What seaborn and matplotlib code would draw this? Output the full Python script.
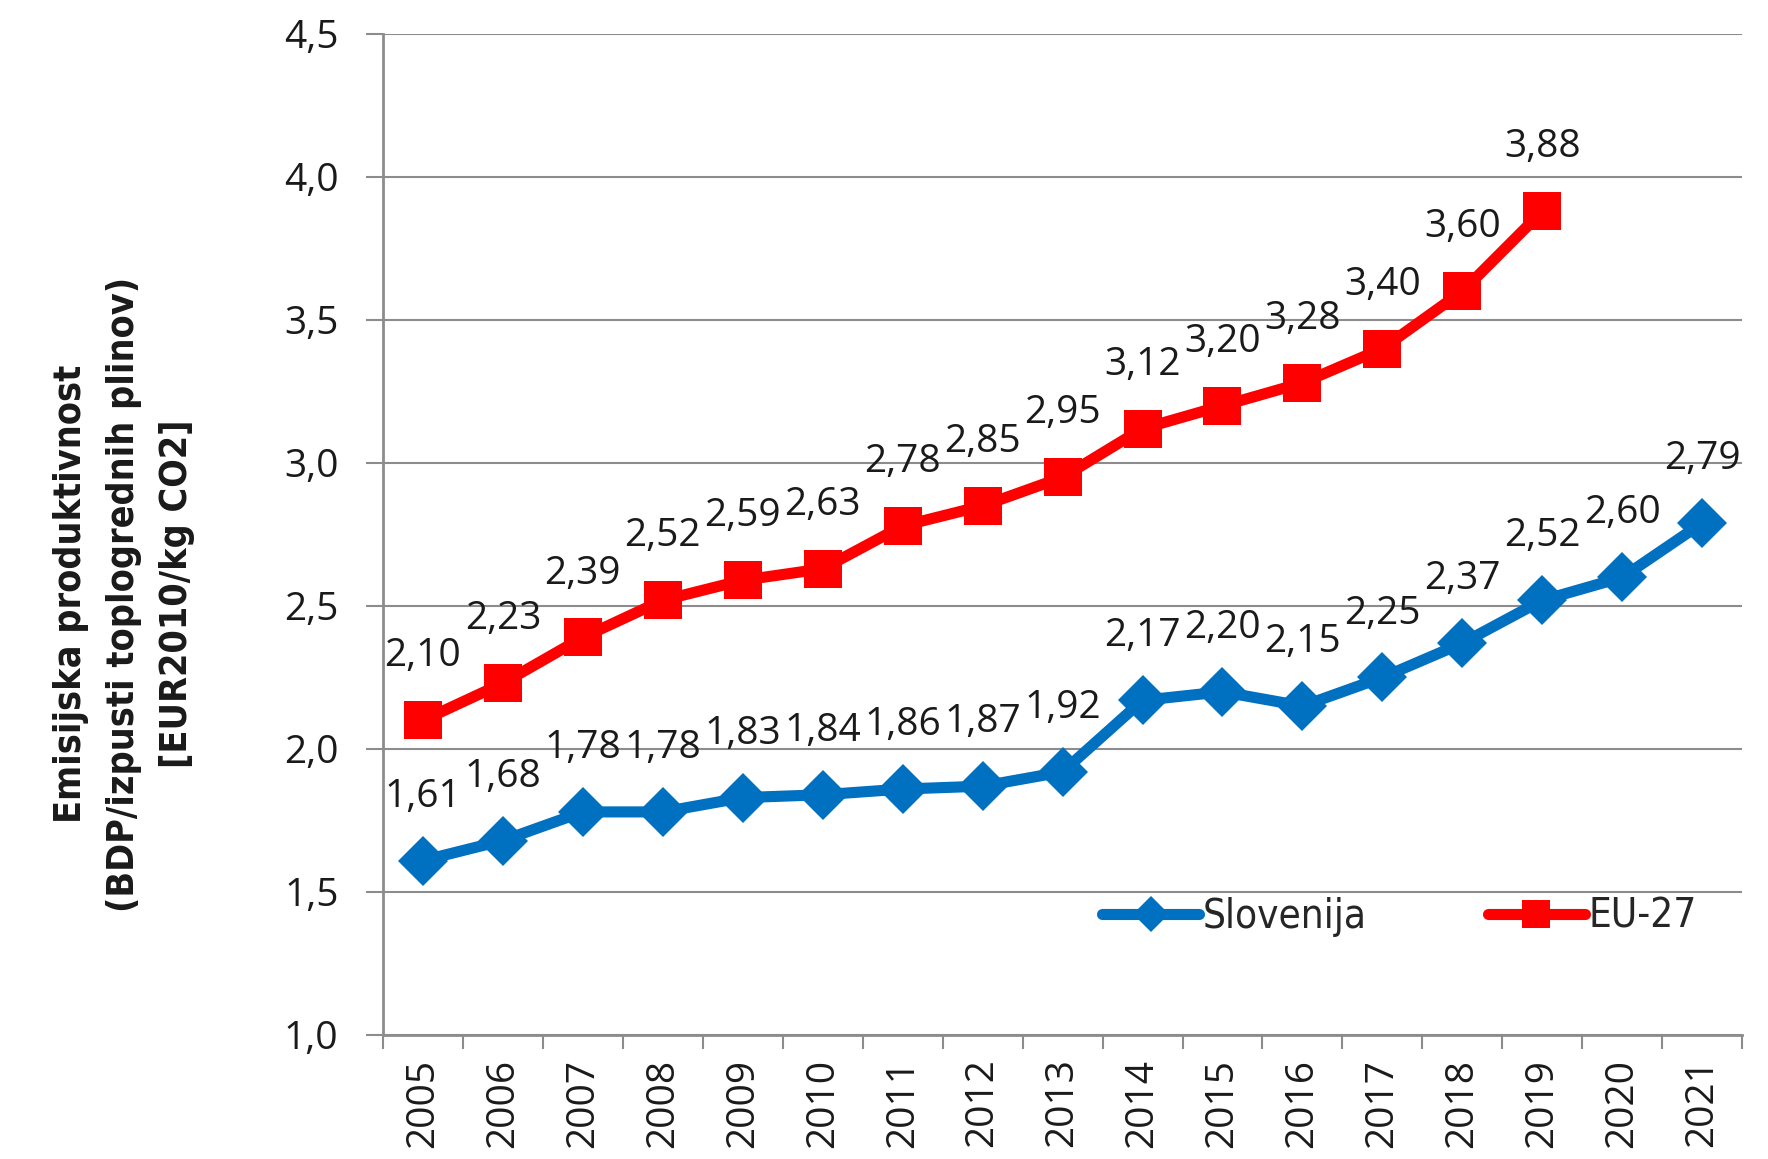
import numpy as np
import pandas as pd
import seaborn as sns
import matplotlib.pyplot as plt
from matplotlib.lines import Line2D

years = [2005, 2006, 2007, 2008, 2009, 2010, 2011, 2012, 2013,
         2014, 2015, 2016, 2017, 2018, 2019, 2020, 2021]
slovenija = [1.61, 1.68, 1.78, 1.78, 1.83, 1.84, 1.86, 1.87, 1.92,
             2.17, 2.20, 2.15, 2.25, 2.37, 2.52, 2.60, 2.79]
eu27 = [2.10, 2.23, 2.39, 2.52, 2.59, 2.63, 2.78, 2.85, 2.95,
        3.12, 3.20, 3.28, 3.40, 3.60, 3.88]
yticks = [1.0, 1.5, 2.0, 2.5, 3.0, 3.5, 4.0, 4.5]

blue = '#0070C0'
red = '#FF0000'
txt = '#1a1a1a'

sns.set_style('white')
plt.rcParams['font.family'] = ['Open Sans', 'DejaVu Sans']

fig = plt.figure(figsize=(17.68, 11.59), dpi=100)
ax = fig.add_axes([0.2166, 0.107, 0.7688, 0.8637])

df_si = pd.DataFrame({'leto': years, 'vrednost': slovenija})
df_eu = pd.DataFrame({'leto': years[:len(eu27)], 'vrednost': eu27})

sns.lineplot(data=df_si, x='leto', y='vrednost', ax=ax, color=blue, lw=8,
             marker='D', markersize=25, markeredgewidth=0, zorder=3)
sns.lineplot(data=df_eu, x='leto', y='vrednost', ax=ax, color=red, lw=8,
             marker='s', markersize=27, markeredgewidth=0, zorder=3)

# data labels
for x, v in zip(years, slovenija):
    ax.annotate(f'{v:.2f}'.replace('.', ','), (x, v), xytext=(0, 46),
                textcoords='offset points', ha='center', va='center',
                fontsize=28, color=txt, zorder=4)
for x, v in zip(years, eu27):
    ax.annotate(f'{v:.2f}'.replace('.', ','), (x, v), xytext=(0, 46),
                textcoords='offset points', ha='center', va='center',
                fontsize=28, color=txt, zorder=4)

ax.set_xlim(years[0] - 0.5, years[-1] + 0.5)
ax.set_ylim(1.0, 4.5)
ax.set_yticks(yticks)
ax.set_yticklabels([f'{t:.1f}'.replace('.', ',') for t in yticks])
ax.set_xticks(years)
ax.set_xticklabels([str(y) for y in years], rotation=90)
ax.set_xticks([y - 0.5 for y in years] + [years[-1] + 0.5], minor=True)

ax.tick_params(axis='x', which='major', length=0, pad=17, labelsize=28, labelcolor=txt)
ax.tick_params(axis='x', which='minor', length=10, width=1.5, color='#8c8c8c', bottom=True)
ax.tick_params(axis='y', which='major', length=12, width=1.5, color='#8c8c8c', left=True,
               pad=20, labelsize=28, labelcolor=txt)

ax.yaxis.grid(True, color='#8c8c8c', lw=1.5)
ax.xaxis.grid(False)
for s in ['top', 'right']:
    ax.spines[s].set_visible(False)
for s in ['left', 'bottom']:
    ax.spines[s].set_color('#8c8c8c')
    ax.spines[s].set_linewidth(2)

ax.set_xlabel('')
ax.set_ylabel('')
fig.text(124 / 1768, 1 - 594 / 1159,
         'Emisijska produktivnost\n(BDP/izpusti toplogrednih plinov)\n[EUR2010/kg CO2]',
         rotation=90, ha='center', va='center', multialignment='center',
         fontsize=27, fontweight='bold', family='DejaVu Sans', fontstretch='condensed',
         linespacing=1.6, color=txt)

handles = [Line2D([], [], color=blue, lw=8, marker='D', markersize=18, markeredgewidth=0),
           Line2D([], [], color=red, lw=8, marker='s', markersize=20, markeredgewidth=0)]
ax.legend(handles, ['Slovenija', 'EU-27'], loc='center', bbox_to_anchor=(0.748, 0.118),
          ncol=2, frameon=False, handlelength=2.4, handletextpad=0.1, columnspacing=3.0,
          prop={'family': 'DejaVu Sans', 'stretch': 'condensed', 'size': 29})

fig.savefig('out.png', dpi=100)
